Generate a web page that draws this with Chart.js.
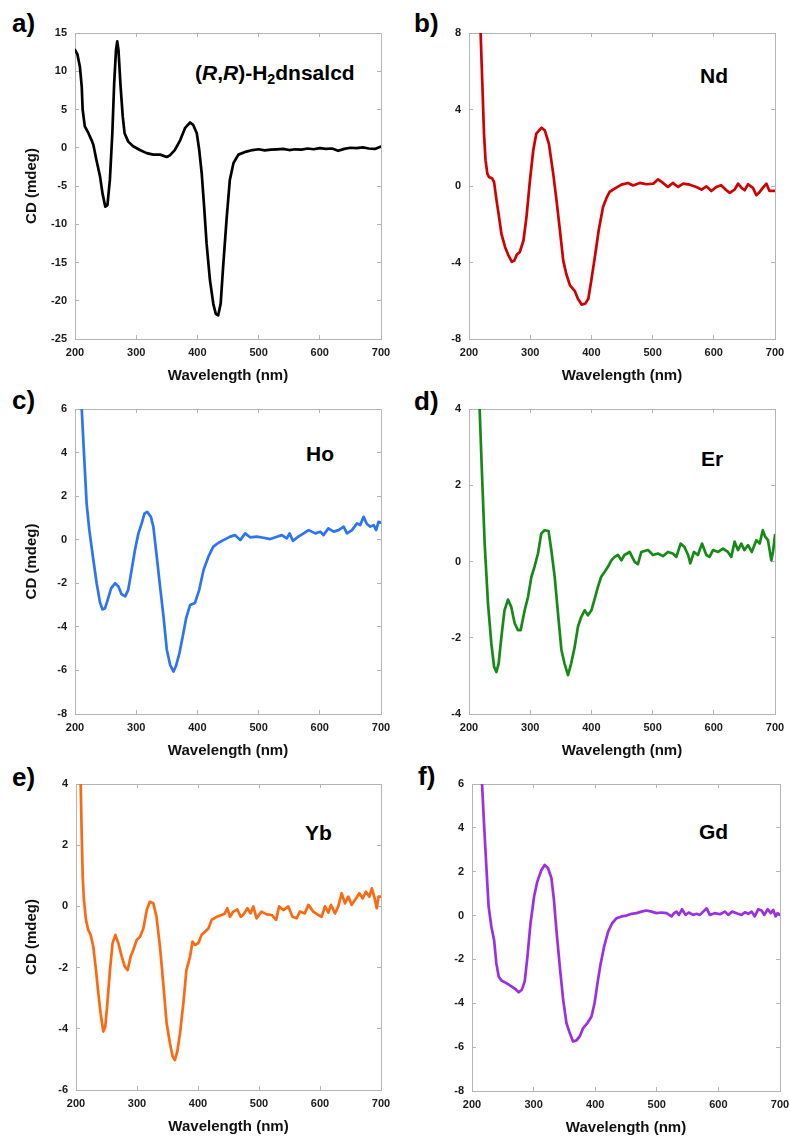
<!DOCTYPE html>
<html>
<head>
<meta charset="utf-8">
<script src="https://cdn.jsdelivr.net/npm/chart.js@4.4.1/dist/chart.umd.min.js"></script>
<style>
  html, body { margin: 0; padding: 0; background: #ffffff; }
  body { width: 790px; height: 1138px; position: relative; overflow: hidden; font-family: "Liberation Sans", Arial, sans-serif; }
  canvas { position: absolute; }
  .lbl { position: absolute; font-weight: bold; color: #000; line-height: 1; white-space: nowrap; transform: translateY(-50%); }
  .panel { font-size: 26px; }
  .ann { font-size: 21px; }
  .ann sub { font-size: 0.68em; vertical-align: -0.3em; line-height: 0; }
</style>
</head>
<body>
<div class="lbl panel" style="left:12px;top:23px;">a)</div>
<div class="lbl panel" style="left:414px;top:23px;">b)</div>
<div class="lbl panel" style="left:12px;top:400px;">c)</div>
<div class="lbl panel" style="left:414px;top:401px;">d)</div>
<div class="lbl panel" style="left:12px;top:777px;">e)</div>
<div class="lbl panel" style="left:418px;top:776px;">f)</div>

<div class="lbl ann" style="left:195px;top:72px;">(<i>R</i>,<i>R</i>)-H<sub>2</sub>dnsalcd</div>
<div class="lbl ann" style="left:700px;top:75px;">Nd</div>
<div class="lbl ann" style="left:306px;top:453px;">Ho</div>
<div class="lbl ann" style="left:701px;top:458px;">Er</div>
<div class="lbl ann" style="left:305px;top:832px;">Yb</div>
<div class="lbl ann" style="left:699px;top:831px;">Gd</div>

<canvas id="ca"></canvas>
<canvas id="cb"></canvas>
<canvas id="cc"></canvas>
<canvas id="cd"></canvas>
<canvas id="ce"></canvas>
<canvas id="cf"></canvas>

<script>
// ---- Data (wavelength nm, CD mdeg) ----
const xTicks = [200, 300, 400, 500, 600, 700];

const ligandCD = [[200,12.8],[204,12.2],[208,10.6],[211,8.0],[212.5,5.0],[216,2.8],[222,1.9],[227,1.0],[230,0.4],[235,-1.6],[241,-3.8],[245,-6.0],[249.5,-7.7],[253,-7.5],[257,-4.2],[261,1.9],[264,8.4],[267,12.8],[269,13.9],[271,12.8],[274.5,8.0],[278,4.1],[281,1.9],[287,0.8],[295,0.2],[306,-0.3],[317,-0.7],[328,-0.9],[339,-0.9],[350,-1.2],[355,-1.0],[363,-0.3],[372,1.0],[380,2.6],[388,3.3],[393,3.0],[399,1.9],[403,-0.3],[407,-3.3],[411,-7.7],[415,-12.5],[420.5,-17.3],[426,-20.4],[430,-21.7],[434,-21.9],[438,-20.4],[442,-15.6],[448,-9.0],[453,-4.2],[459,-2.0],[467,-0.9],[480,-0.5],[490,-0.3],[500,-0.2],[510,-0.35],[520,-0.25],[530,-0.2],[540,-0.15],[550,-0.3],[560,-0.2],[570,-0.25],[580,-0.1],[590,-0.2],[600,-0.05],[610,-0.15],[620,-0.1],[630,-0.4],[640,-0.15],[650,0.0],[660,-0.05],[670,0.05],[680,-0.1],[690,-0.15],[700,0.15]];

const ndCD = [[219,8.0],[221.8,5.35],[224.5,2.74],[227,1.35],[230,0.65],[232.6,0.47],[238,0.39],[241,0.2],[245,-0.75],[249,-1.6],[253,-2.5],[259,-3.2],[264,-3.6],[270,-3.97],[274,-3.9],[278,-3.6],[283,-3.45],[289,-2.85],[294,-1.6],[299.6,0.3],[305,1.87],[310,2.74],[318.6,3.05],[324,2.9],[330.6,2.2],[337.6,0.65],[343,-0.75],[348.5,-2.3],[354,-3.9],[359,-4.6],[365,-5.2],[373,-5.5],[378,-5.9],[384,-6.2],[390,-6.15],[395,-5.9],[400,-4.9],[405.7,-3.7],[412,-2.3],[419,-1.1],[425,-0.6],[430,-0.3],[438,-0.14],[449,0.07],[460,0.16],[468,0.03],[479,0.16],[490,0.09],[501,0.12],[509,0.35],[517,0.16],[525,-0.05],[533,0.16],[541.7,-0.05],[550,0.12],[560.7,0.07],[571.6,-0.05],[580,-0.19],[588,-0.02],[596,-0.26],[604,-0.05],[612,0.04],[620.5,-0.22],[626,-0.36],[634,-0.19],[639.6,0.12],[645,-0.09],[650.5,-0.22],[656,0.09],[664,-0.1],[669.5,-0.48],[675,-0.31],[680,-0.1],[686,0.12],[691,-0.26],[700,-0.26]];

const hoCD = [[211,6.0],[214.7,3.95],[219,1.66],[223.4,0.44],[230,-0.93],[235.4,-2.0],[241,-2.9],[245,-3.2],[249,-3.15],[253.4,-2.76],[259,-2.23],[265.4,-2.0],[271,-2.15],[276,-2.5],[282,-2.6],[287,-2.3],[291.6,-1.54],[298,-0.47],[303.6,0.29],[309,0.75],[313.4,1.2],[318,1.28],[324,1.05],[328,0.6],[333.6,-0.78],[339,-2.15],[344.5,-3.5],[350,-5.05],[355.4,-5.74],[361,-6.05],[365,-5.8],[370.7,-5.2],[376,-4.44],[381.6,-3.6],[388,-3.0],[396,-2.9],[403,-2.3],[410,-1.39],[418,-0.78],[426,-0.32],[434.5,-0.14],[442.6,-0.02],[453.5,0.14],[461.7,0.21],[470,-0.02],[478,0.29],[486,0.11],[497,0.14],[508,0.09],[519,0.03],[530,0.14],[538,0.21],[546,0.06],[550.6,0.29],[556,-0.05],[565,0.14],[573.5,0.29],[581.7,0.44],[592.6,0.29],[600.8,0.37],[606,0.21],[614,0.52],[622.6,0.37],[630.7,0.44],[639,0.6],[644.4,0.29],[652.6,0.44],[660.7,0.75],[666,0.67],[671.6,1.05],[677,0.72],[682.5,0.6],[688,0.67],[692,0.44],[696,0.82],[700,0.78]];

const erCD = [[217.4,4.0],[221,2.39],[225.6,0.47],[231,-1.1],[236.5,-2.15],[241,-2.76],[244.7,-2.9],[248.5,-2.67],[253,-1.97],[258,-1.28],[263.7,-1.0],[269,-1.19],[274.6,-1.62],[280,-1.8],[284.4,-1.8],[291,-1.28],[296.4,-0.93],[302,-0.4],[307,-0.14],[312.7,0.21],[318,0.73],[323.6,0.82],[330,0.8],[334.5,0.3],[340,-0.4],[345.4,-1.36],[351,-2.32],[356,-2.67],[361.8,-2.98],[367,-2.67],[372.7,-2.24],[378,-1.71],[383.5,-1.45],[389,-1.28],[394.4,-1.41],[400,-1.28],[405,-1.0],[410.8,-0.66],[416,-0.4],[421.7,-0.27],[427,-0.14],[432.6,0.03],[438,0.12],[443.5,0.17],[449,0.03],[454,0.17],[462.5,0.25],[470.7,-0.01],[476,-0.07],[481.6,0.25],[492.5,0.3],[500.6,0.17],[508.8,0.21],[517,0.14],[525,0.25],[533,0.21],[538.8,0.12],[545.8,0.47],[552,0.38],[558,0.17],[561.6,-0.05],[567.6,0.25],[574,0.17],[580.7,0.47],[587.8,0.17],[593,0.12],[598.7,0.3],[606.9,0.25],[615,0.34],[623,0.25],[628.6,0.12],[634,0.52],[639.5,0.3],[645,0.47],[650,0.3],[656,0.43],[662,0.25],[669.5,0.56],[675,0.47],[680,0.82],[684,0.65],[688.5,0.56],[694,0.03],[696.7,0.25],[700,0.69]];

const ybCD = [[207.7,4.0],[209.3,2.39],[211,0.97],[213,0.21],[216.4,-0.44],[220,-0.77],[224,-0.93],[228.4,-1.32],[232.8,-2.08],[236.6,-2.84],[240.4,-3.5],[244.8,-4.09],[248,-3.93],[251.4,-3.17],[255.7,-2.08],[260,-1.2],[264.5,-0.93],[269.4,-1.2],[275,-1.64],[280,-1.97],[284.7,-2.08],[289.6,-1.64],[294,-1.42],[299.5,-1.1],[305,-0.99],[310.4,-0.72],[316,-0.12],[321,0.15],[326.8,0.1],[332,-0.34],[337.7,-1.32],[343,-2.51],[348.6,-3.82],[354,-4.47],[358.5,-4.91],[362,-5.02],[366,-4.75],[370.5,-4.15],[376,-3.17],[381,-2.08],[387,-1.64],[391,-1.15],[395,-1.26],[400.5,-1.2],[406,-0.93],[411.5,-0.83],[417,-0.72],[422.4,-0.44],[430.6,-0.34],[438.8,-0.28],[444,-0.23],[448,-0.06],[452.5,-0.34],[458,-0.17],[464.5,-0.1],[470,-0.34],[474,-0.28],[481,-0.06],[486,-0.23],[490.7,0.0],[496,-0.39],[504,-0.17],[512.6,-0.26],[520.8,-0.28],[528,-0.44],[533,0.0],[540,-0.12],[548,0.0],[555,-0.34],[561.7,-0.39],[567,-0.17],[575,-0.23],[581,0.05],[589,-0.17],[597,-0.28],[602.7,-0.34],[608,0.0],[613.7,-0.2],[618,0.05],[624.6,-0.23],[630,0.0],[635.5,0.43],[641,0.1],[646.4,0.32],[652,0.05],[657.4,0.21],[664.5,0.43],[670,0.26],[675.4,0.48],[681,0.32],[685,0.59],[689.6,0.26],[693,-0.06],[696,0.32],[700,0.32]];

const gdCD = [[216.3,6.0],[219.5,4.2],[223.3,2.23],[227,0.41],[231.4,-0.5],[235.8,-1.1],[239.5,-2.17],[243.3,-2.78],[247.7,-2.96],[255.8,-3.08],[264,-3.23],[270.4,-3.35],[275.8,-3.5],[281,-3.38],[285.6,-3.0],[290,-1.87],[295,-0.35],[300.8,0.87],[306,1.55],[312.7,2.08],[318,2.31],[323.5,2.16],[329,1.7],[333,0.72],[337,-0.65],[342.5,-2.32],[348,-3.84],[353.3,-4.9],[358.7,-5.36],[364,-5.74],[369.6,-5.69],[375,-5.5],[380.4,-5.13],[387.4,-4.9],[394,-4.6],[399,-3.99],[403.7,-3.08],[409,-2.17],[414.5,-1.41],[421,-0.73],[427.5,-0.35],[434.6,-0.12],[442.7,-0.04],[450.8,0.0],[459,0.08],[467,0.11],[475,0.18],[483,0.23],[491.4,0.18],[499.6,0.11],[507.7,0.14],[515.8,0.11],[524,-0.04],[528,0.11],[532,0.18],[536,0.03],[541,0.29],[546.7,0.03],[552,0.14],[559,0.03],[564.6,0.08],[570,0.03],[575.4,0.18],[581,0.33],[586,0.03],[594,0.11],[602.5,0.06],[610.6,0.18],[616,0.03],[622.5,0.18],[629.6,0.11],[637.7,0.03],[643,0.15],[648.5,0.08],[654,0.18],[659,-0.04],[664.8,0.29],[670,0.23],[674.5,0.03],[680,0.29],[685,0.11],[689,0.26],[693,-0.04],[696,0.11],[700,0.03]];

// y-axis ranges [min, max, step]
const ligandY = [-25, 15, 5];
const ndY = [-8, 8, 4];
const hoY = [-8, 6, 2];
const erY = [-4, 4, 2];
const ybY = [-6, 4, 2];
const gdY = [-8, 6, 2];

// ---- Layout ----
const FONT = '"Liberation Sans", Arial, sans-serif';
const FRAME = '#b4b4b4';

function zeroPad(s) { s.paddingLeft = 0; s.paddingRight = 0; s.paddingTop = 0; s.paddingBottom = 0; }

function makePanel(id, data, color, yr, area, colLeft, showYTitle) {
  const cv = document.getElementById(id);
  const topPad = 30, botH = 48;
  const W = 395, H = (area.b - area.t) + topPad + botH;
  cv.width = W; cv.height = H;
  cv.style.left = colLeft + 'px';
  cv.style.top = (area.t - topPad) + 'px';
  cv.style.width = W + 'px'; cv.style.height = H + 'px';
  const leftW = area.l - colLeft, rightW = colLeft + W - area.r;
  const mirrorGrid = { display: true, drawOnChartArea: false, drawTicks: true, tickLength: -4, color: FRAME, lineWidth: 1 };
  const border = { display: true, color: FRAME, width: 1 };
  new Chart(cv, {
    type: 'line',
    data: { datasets: [{
      data: data.map(p => ({ x: p[0], y: p[1] })),
      borderColor: color, borderWidth: 2.7, pointRadius: 0, tension: 0, fill: false,
      borderJoinStyle: 'round', borderCapStyle: 'round',
      xAxisID: 'x', yAxisID: 'y'
    }]},
    options: {
      responsive: false, animation: false, devicePixelRatio: 1,
      layout: { padding: 0 },
      plugins: { legend: { display: false }, tooltip: { enabled: false } },
      scales: {
        x: {
          type: 'linear', position: 'bottom', min: xTicks[0], max: xTicks[xTicks.length - 1],
          afterBuildTicks: s => { s.ticks = xTicks.map(v => ({ value: v })); },
          ticks: { color: '#1a1a1a', font: { family: FONT, size: 11, weight: 'bold' }, padding: 11, maxRotation: 0, autoSkip: false },
          grid: mirrorGrid, border: border,
          title: { display: true, text: 'Wavelength (nm)', color: '#111', font: { family: FONT, size: 15, weight: 'bold' }, padding: { top: 0, bottom: 2 } },
          afterFit: s => { s.height = botH; zeroPad(s); }
        },
        x2: {
          type: 'linear', position: 'top', min: xTicks[0], max: xTicks[xTicks.length - 1],
          afterBuildTicks: s => { s.ticks = xTicks.map(v => ({ value: v })); },
          ticks: { display: false }, grid: mirrorGrid, border: border,
          afterFit: s => { s.height = topPad; zeroPad(s); }
        },
        y: {
          type: 'linear', position: 'left', min: yr[0], max: yr[1],
          ticks: { stepSize: yr[2], color: '#1a1a1a', font: { family: FONT, size: 11, weight: 'bold' }, padding: 12 },
          grid: mirrorGrid, border: border,
          title: { display: showYTitle, text: 'CD (mdeg)', color: '#111', font: { family: FONT, size: 15, weight: 'bold' }, padding: { top: 23, bottom: 0 } },
          afterFit: s => { s.width = leftW; zeroPad(s); }
        },
        y2: {
          type: 'linear', position: 'right', min: yr[0], max: yr[1],
          ticks: { display: false, stepSize: yr[2] }, grid: mirrorGrid, border: border,
          afterFit: s => { s.width = rightW; zeroPad(s); }
        }
      }
    }
  });
}

makePanel('ca', ligandCD, '#000000', ligandY, { l: 75, r: 381, t: 33, b: 339 }, 0, true);
makePanel('cb', ndCD, '#d00000', ndY, { l: 469, r: 775, t: 33, b: 339 }, 395, false);
makePanel('cc', hoCD, '#2b74f6', hoY, { l: 75, r: 381, t: 409, b: 714 }, 0, true);
makePanel('cd', erCD, '#168a16', erY, { l: 469, r: 775, t: 409, b: 714 }, 395, false);
makePanel('ce', ybCD, '#fb6a12', ybY, { l: 76, r: 381, t: 784, b: 1090 }, 0, true);
makePanel('cf', gdCD, '#9b2fe3', gdY, { l: 472, r: 780, t: 784, b: 1091 }, 395, false);
</script>
</body>
</html>
